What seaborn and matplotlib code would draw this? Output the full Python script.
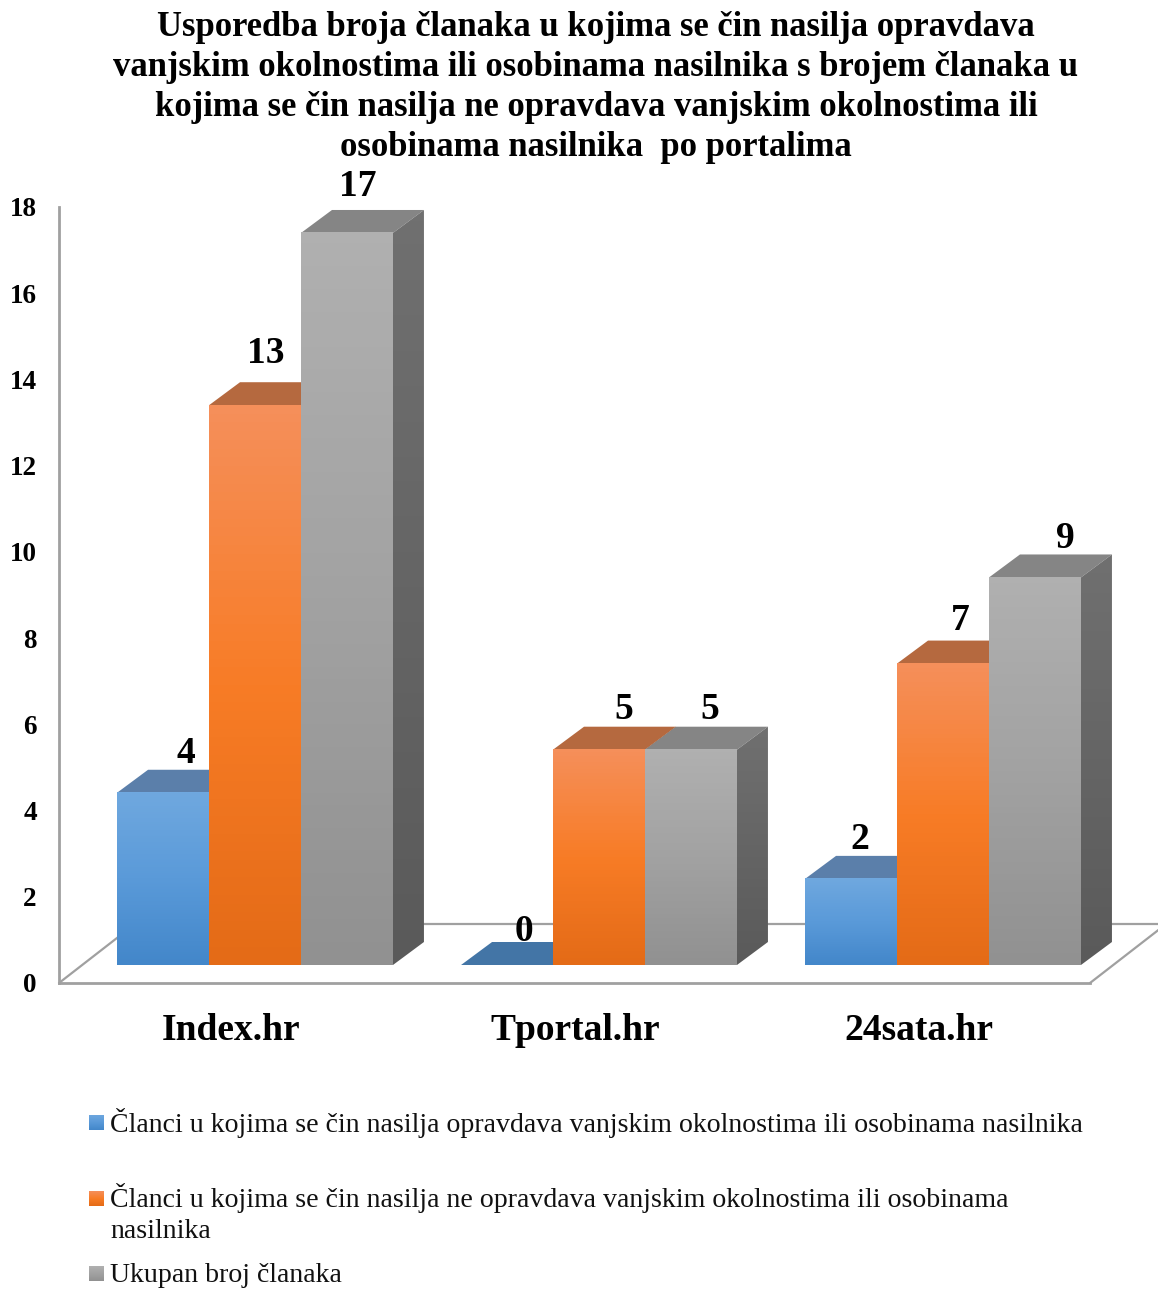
import matplotlib
matplotlib.use("Agg")
import matplotlib.pyplot as plt
import seaborn as sns
import pandas as pd
import numpy as np
from matplotlib.colors import LinearSegmentedColormap
from matplotlib.lines import Line2D
from matplotlib.patches import Polygon

portals = ['Index.hr', 'Tportal.hr', '24sata.hr']
series_names = [
    'Članci u kojima se čin nasilja opravdava vanjskim okolnostima ili osobinama nasilnika',
    'Članci u kojima se čin nasilja ne opravdava vanjskim okolnostima ili osobinama nasilnika',
    'Ukupan broj članaka',
]
justified = [4, 0, 2]
not_justified = [13, 5, 7]
total = [17, 5, 9]
y_ticks = [0, 2, 4, 6, 8, 10, 12, 14, 16, 18]
title_lines = [
    'Usporedba broja članaka u kojima se čin nasilja opravdava',
    'vanjskim okolnostima ili osobinama nasilnika s brojem članaka u',
    'kojima se čin nasilja ne opravdava vanjskim okolnostima ili',
    'osobinama nasilnika  po portalima',
]
legend_lines = [
    [series_names[0]],
    ['Članci u kojima se čin nasilja ne opravdava vanjskim okolnostima ili osobinama', 'nasilnika'],
    [series_names[2]],
]

# colours per series: front gradient, top face, side gradient
front_colors = [['#6fa8df', '#5a9ad9', '#4387ca'],
                ['#f58f5a', '#f87c26', '#e46b17'],
                ['#b0b0b0', '#a2a2a2', '#919191']]
top_colors = ['#5b7faa', '#b5693f', '#858585']
zero_top_color = '#4375a6'
side_colors = [['#4f6f95', '#3f5f85'], ['#a05a35', '#8f4f2d'], ['#707070', '#5a5a5a']]
axis_color = '#a0a0a0'

# label nudges in pixels (right of bar centre, above bar top), one per bar
label_dx = [[23, 17, 9], [11, 25, 17], [11, 19, 30]]
label_dy = [[30, 24, 30], [42, 31, 34], [37, 31, 29]]

W, H = 1158, 1289
PX_PER_UNIT = 43.06
GROUP_PX = 344
DEPTH_X = 31 / GROUP_PX
DEPTH_Y = 23 / PX_PER_UNIT


def px_rect(left, top, right, bottom):
    return [left / W, 1 - bottom / H, (right - left) / W, (bottom - top) / H]


def gradient():
    return np.linspace(0, 1, 64).reshape(-1, 1)


sns.set_theme(style="white")
plt.rcParams['font.family'] = ['Liberation Serif', 'DejaVu Serif']

fig = plt.figure(figsize=(W / 100, H / 100), dpi=100, facecolor='white')

# wall + front floor edge carry the axis labels
ax_wall = fig.add_axes(px_rect(59, 207, 1090, 983))
ax_wall.patch.set_alpha(0)
ax_wall.set_ylim(0, 18)
ax_wall.set_xlim((59 - 231) / GROUP_PX, (1090 - 231) / GROUP_PX)
ax_wall.set_yticks(y_ticks)
ax_wall.set_xticks(range(len(portals)))
ax_wall.set_xticklabels(portals, fontsize=27, fontweight='bold', color='black')
ax_wall.tick_params(axis='y', length=0, pad=16, labelsize=19.5, labelcolor='black')
ax_wall.tick_params(axis='x', length=0, pad=21.5)
for lab in ax_wall.get_yticklabels():
    lab.set_fontweight('bold')
for s in ['top', 'right']:
    ax_wall.spines[s].set_visible(False)
for s in ['left', 'bottom']:
    ax_wall.spines[s].set_color(axis_color)
    ax_wall.spines[s].set_linewidth(2)

# back and side edges of the floor
floor_edges = [([59, 135], [983, 924]), ([135, 1170], [924, 924]), ([1090, 1170], [983, 921])]
for xs, ys in floor_edges:
    fig.add_artist(Line2D([x / W for x in xs], [1 - y / H for y in ys],
                          color=axis_color, linewidth=1.6, zorder=0))

# bars
data = pd.DataFrame({'portal': portals, series_names[0]: justified,
                     series_names[1]: not_justified, series_names[2]: total})
data = data.melt(id_vars='portal', var_name='series', value_name='count')

ax = fig.add_axes(px_rect(59, 965 - 18 * PX_PER_UNIT, W, 965), zorder=2)
ax.patch.set_alpha(0)
palette = dict(zip(series_names, [c[1] for c in front_colors]))
sns.barplot(data=data, x='portal', y='count', hue='series', order=portals,
            hue_order=series_names, palette=palette, width=0.802, gap=0,
            saturation=1, legend=False, linewidth=0, ax=ax)
ax.set_xlim((59 - 255) / GROUP_PX, (W - 255) / GROUP_PX)
ax.set_ylim(0, 18)
ax.autoscale(False)
ax.axis('off')

n_groups = len(portals)
bars = []
for i, patch in enumerate(ax.patches[:n_groups * len(series_names)]):
    bars.append((patch.get_x(), patch, i // n_groups, i % n_groups))
bars.sort(key=lambda b: b[0])

z = 3
for x0, patch, s_idx, g_idx in bars:
    w = patch.get_width()
    h = patch.get_height()
    x1 = x0 + w
    top_color = top_colors[s_idx] if h > 0 else zero_top_color
    ax.add_patch(Polygon([(x0, h), (x1, h), (x1 + DEPTH_X, h + DEPTH_Y), (x0 + DEPTH_X, h + DEPTH_Y)],
                         closed=True, facecolor=top_color, edgecolor='none', zorder=z, clip_on=False))
    side = Polygon([(x1, 0), (x1 + DEPTH_X, DEPTH_Y), (x1 + DEPTH_X, h + DEPTH_Y), (x1, h)],
                   closed=True, facecolor='none', edgecolor='none', zorder=z, clip_on=False)
    ax.add_patch(side)
    side_cmap = LinearSegmentedColormap.from_list('side', side_colors[s_idx])
    im = ax.imshow(gradient(), cmap=side_cmap, aspect='auto', zorder=z,
                   extent=(x1, x1 + DEPTH_X, 0, h + DEPTH_Y))
    im.set_clip_path(side)
    patch.set_zorder(z + 1)
    if h > 0:
        front_cmap = LinearSegmentedColormap.from_list('front', front_colors[s_idx])
        ax.imshow(gradient(), cmap=front_cmap, aspect='auto', zorder=z + 1,
                  extent=(x0, x1, 0, h))
    z += 2

# value labels
for x0, patch, s_idx, g_idx in bars:
    ax.annotate(str(int(patch.get_height())),
                xy=(x0 + patch.get_width() / 2, patch.get_height()),
                xytext=(label_dx[s_idx][g_idx] * 0.72, label_dy[s_idx][g_idx] * 0.72),
                textcoords='offset points', ha='center', va='baseline',
                fontsize=27, fontweight='bold', color='black', zorder=50, annotation_clip=False)

# title
for line, baseline in zip(title_lines, [36, 76, 116, 156]):
    fig.text(596 / W, 1 - baseline / H, line, ha='center', va='baseline',
             fontsize=24.9, fontweight='bold', color='black')

# legend
swatch_tops = [1115, 1191, 1266]
legend_baselines = [[1132], [1207, 1238], [1282]]
for s_idx, top in enumerate(swatch_tops):
    ax_sw = fig.add_axes(px_rect(89, top, 104, top + 15))
    ax_sw.imshow(gradient(), aspect='auto',
                 cmap=LinearSegmentedColormap.from_list('sw', front_colors[s_idx]))
    ax_sw.axis('off')
    for line, baseline in zip(legend_lines[s_idx], legend_baselines[s_idx]):
        fig.text(110 / W, 1 - baseline / H, line, ha='left', va='baseline',
                 fontsize=20.1, color='#111111')

plt.savefig('out.png', dpi=100)
